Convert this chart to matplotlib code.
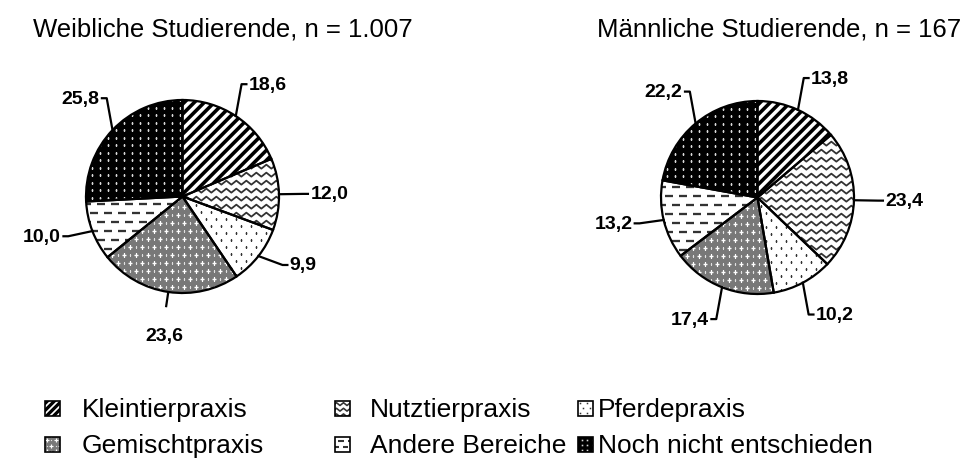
import numpy as np
import matplotlib
matplotlib.use('Agg')
import matplotlib.pyplot as plt
from matplotlib.patches import Rectangle
from matplotlib.collections import LineCollection

plt.rcParams['font.family'] = ['Liberation Sans', 'DejaVu Sans']

categories = ['Kleintierpraxis', 'Nutztierpraxis', 'Pferdepraxis',
              'Gemischtpraxis', 'Andere Bereiche', 'Noch nicht entschieden']
female_values = [18.6, 12.0, 9.9, 23.6, 10.0, 25.8]
male_values = [13.8, 23.4, 10.2, 17.4, 13.2, 22.2]
titles = ['Weibliche Studierende, n = 1.007', 'Männliche Studierende, n = 167']

pattern_kinds = ['stripes', 'waves', 'sparse_dots', 'gray_plus', 'dashes', 'black_dots']
face_colors = {'stripes': 'white', 'waves': 'white', 'sparse_dots': 'white',
               'gray_plus': '#787878', 'dashes': 'white', 'black_dots': 'black'}

W, H = 975, 464
fig = plt.figure(figsize=(W / 100, H / 100), dpi=100)
PT = 0.72  # points per pixel
_scale = {'v': 1.0}


def add_pattern(ax, patch, kind, u, bbox, ysign=1.0):
    x0, x1, y0, y1 = bbox
    k_ = _scale['v']
    arts = []
    if kind == 'stripes':
        per = 10 * u
        h = y1 - y0
        cs = np.arange(x0 - h - per, x1 + per, per)
        if ysign > 0:
            segs = [[(c, y0), (c + h, y1)] for c in cs]
        else:
            segs = [[(c, y1), (c + h, y0)] for c in cs]
        arts.append(LineCollection(segs, colors='black', linewidths=3.6 * PT * k_))
    elif kind == 'waves':
        rows = np.arange(y0, y1 + 8 * u, 8 * u)
        xs = np.arange(x0, x1 + 5 * u, 5 * u)
        k = np.arange(len(xs))
        off = np.where(k % 2 == 0, 2.0 * u, -2.0 * u)
        segs = [np.column_stack([xs, r + off]) for r in rows]
        arts.append(LineCollection(segs, colors='#333333', linewidths=1.8 * PT * k_))
    elif kind == 'dashes':
        segs = []
        for i, r in enumerate(np.arange(y0, y1 + 9 * u, 9 * u)):
            start = x0 + (7 * u if i % 2 else 0)
            for s in np.arange(start, x1, 14 * u):
                segs.append([(s, r), (s + 8 * u, r)])
        arts.append(LineCollection(segs, colors='#333333', linewidths=2.3 * PT * k_))
    if kind in ('sparse_dots', 'gray_plus', 'black_dots'):
        if kind == 'sparse_dots':
            sx, sy, stag, mk, ms, col, mew = 10, 7, 5, 's', 1.7, '#333333', 0
        elif kind == 'gray_plus':
            sx, sy, stag, mk, ms, col, mew = 12, 8, 6, '+', 4.0, 'white', 1.3
        else:
            sx, sy, stag, mk, ms, col, mew = 8, 7.5, 0, 's', 1.8, '#d8d8d8', 0
        xs_all, ys_all = [], []
        for i, r in enumerate(np.arange(y0, y1 + sy * u, sy * u)):
            xs = np.arange(x0 + (stag * u if i % 2 else 0), x1 + sx * u, sx * u)
            xs_all.append(xs)
            ys_all.append(np.full_like(xs, r))
        xs_all = np.concatenate(xs_all)
        ys_all = np.concatenate(ys_all)
        ln, = ax.plot(xs_all, ys_all, ls='none', marker=mk,
                      ms=ms * PT * k_, color=col, mec=col,
                      mew=mew * PT * k_, zorder=2)
        ln.set_clip_path(patch)
        if kind == 'gray_plus':
            ln2, = ax.plot(xs_all + sx * u / 2, ys_all, ls='none', marker='s',
                           ms=1.3 * PT * k_, color='#e0e0e0', mew=0, zorder=2)
            ln2.set_clip_path(patch)
    for a in arts:
        a.set_zorder(2)
        ax.add_collection(a)
        a.set_clip_path(patch)


def fmt(v):
    return f"{v:.1f}".replace('.', ',')


# ---------- pies ----------
centers = [(182.5, 197.5), (757.5, 198.5)]
R = 96.5
L = 1.7
LW = 1.6
for (cx, cy), vals in zip(centers, [female_values, male_values]):
    size = 2 * L * R
    ax = fig.add_axes([(cx - L * R) / W, (H - cy - L * R) / H, size / W, size / H])
    wedges, _ = ax.pie(vals, startangle=90, counterclock=False, radius=1.0,
                       colors=[face_colors[k] for k in pattern_kinds],
                       wedgeprops=dict(linewidth=0, zorder=1))
    u = 1.0 / R
    _scale['v'] = 1.0
    for w, kind in zip(wedges, pattern_kinds):
        add_pattern(ax, w, kind, u, (-1.1, 1.1, -1.1, 1.1))
    ax.pie(vals, startangle=90, counterclock=False, radius=1.0,
           wedgeprops=dict(fill=False, edgecolor='black', linewidth=LW, zorder=3))
    ax.set_xlim(-L, L)
    ax.set_ylim(-L, L)
    ax.set_aspect('equal')
    ax.axis('off')
    # labels with leader lines
    for w, v in zip(wedges, vals):
        mid = np.deg2rad((w.theta1 + w.theta2) / 2)
        c, s = np.cos(mid), np.sin(mid)
        sgn = 1 if c > 0 else -1
        p0 = (c, s)
        if abs(c) < 0.2:
            pe = (1.16 * c, 1.16 * s)
            ax.plot([p0[0], pe[0]], [p0[1], pe[1]], color='black', lw=LW,
                    solid_capstyle='butt', zorder=4, clip_on=False)
            ax.text(pe[0] - 0.02, pe[1] - 0.2, fmt(v), ha='center', va='top',
                    fontsize=14, fontweight='bold', clip_on=False)
            continue
        if abs(s) > 0.65:
            pe = (c + 0.06 * sgn, s + 0.33 * np.sign(s))
        else:
            pe = (c + 0.25 * sgn, s + 0.15 * s)
        ph = (pe[0] + sgn * 0.05, pe[1])
        ax.plot([p0[0], pe[0], ph[0]], [p0[1], pe[1], ph[1]], color='black',
                lw=LW, solid_joinstyle='round', zorder=4, clip_on=False)
        ax.text(ph[0] + sgn * 0.025, ph[1], fmt(v), ha='left' if sgn > 0 else 'right',
                va='center', fontsize=14, fontweight='bold', clip_on=False)

# titles
fig.text(33 / W, 1 - 36 / H, titles[0], fontsize=18.5, ha='left', va='baseline')
fig.text(597 / W, 1 - 36 / H, titles[1], fontsize=18.5, ha='left', va='baseline')

# ---------- legend ----------
lax = fig.add_axes([0, 0, 1, 1], zorder=-1)
lax.set_xlim(0, W)
lax.set_ylim(H, 0)
lax.axis('off')
col_x = [45, 335, 578]
text_x = [82, 370, 598]
row_y = [409, 445]
box = 15
_scale['v'] = 0.9
for i, (cat, kind) in enumerate(zip(categories, pattern_kinds)):
    r, cidx = divmod(i, 3)
    x, y = col_x[cidx], row_y[r]
    rect = Rectangle((x, y - box / 2), box, box, facecolor=face_colors[kind],
                     edgecolor='none', zorder=1)
    lax.add_patch(rect)
    add_pattern(lax, rect, kind, 0.7, (x - 2, x + box + 2, y - box / 2 - 2, y + box / 2 + 2), ysign=-1)
    lax.add_patch(Rectangle((x, y - box / 2), box, box, fill=False,
                            edgecolor='black', linewidth=1.2, zorder=3))
    lax.text(text_x[cidx], y + 1, cat, fontsize=19, ha='left', va='center')

fig.savefig('out.png', dpi=100)
